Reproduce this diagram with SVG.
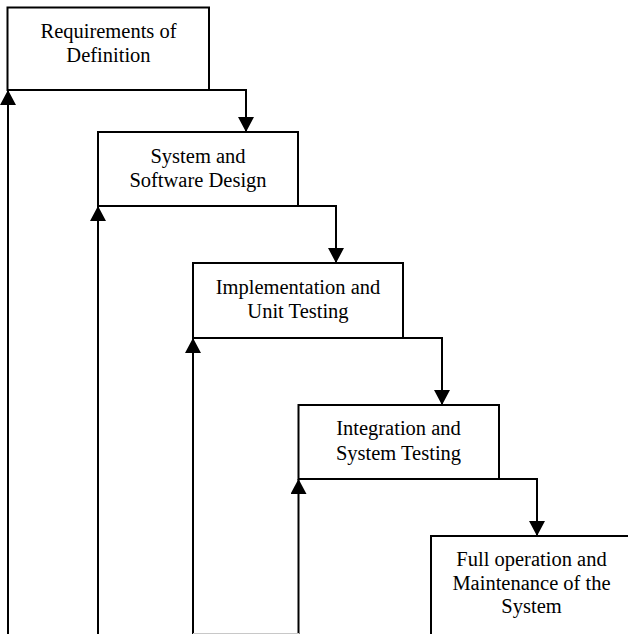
<svg xmlns="http://www.w3.org/2000/svg" width="628" height="634" viewBox="0 0 628 634">
  <style>
    .box { fill: #ffffff; stroke: #000000; stroke-width: 2; }
    .label { font-family: "Liberation Serif", "Times New Roman", serif; font-size: 20.5px; fill: #000000; text-anchor: middle; }
    .link { fill: none; stroke: #000000; stroke-width: 2; }
  </style>
  <defs>
    <marker id="arrow" markerUnits="userSpaceOnUse" markerWidth="15" markerHeight="16" viewBox="0 0 15 16" refX="15" refY="8" orient="auto">
      <path d="M0,0 L15,8 L0,16 z" fill="#000000"/>
    </marker>
  </defs>

  <rect width="628" height="634" fill="#ffffff"/>

  <!-- connectors: step-down flow and feedback lines -->
  <g id="connectors">
    <path class="link" d="M209,90 H246 V132" marker-end="url(#arrow)"/>
    <path class="link" d="M298,206 H336 V263" marker-end="url(#arrow)"/>
    <path class="link" d="M403,338 H442 V405" marker-end="url(#arrow)"/>
    <path class="link" d="M499,479 H537 V536" marker-end="url(#arrow)"/>
    <path class="link" d="M8,634 V90" marker-end="url(#arrow)"/>
    <path class="link" d="M98,634 V206" marker-end="url(#arrow)"/>
    <path class="link" d="M193,634 V338" marker-end="url(#arrow)"/>
    <path class="link" d="M298.5,634 V479" marker-end="url(#arrow)"/>
    <line x1="193" y1="633.5" x2="299" y2="633.5" stroke="#c8c8c8" stroke-width="1"/>
  </g>

  <g id="requirements">
    <rect class="box" x="7.5" y="7.5" width="201.5" height="82.5"/>
    <text class="label" x="108.5" y="38">Requirements of</text>
    <text class="label" x="108.5" y="62">Definition</text>
  </g>

  <g id="design">
    <rect class="box" x="98" y="132" width="200" height="74"/>
    <text class="label" x="198" y="162.5">System and</text>
    <text class="label" x="198" y="186.5">Software Design</text>
  </g>

  <g id="implementation">
    <rect class="box" x="193" y="263" width="210" height="75"/>
    <text class="label" x="298" y="293.5">Implementation and</text>
    <text class="label" x="298" y="318">Unit Testing</text>
  </g>

  <g id="integration">
    <rect class="box" x="298.5" y="405" width="200.5" height="74"/>
    <text class="label" x="398.5" y="435">Integration and</text>
    <text class="label" x="398.5" y="459.5">System Testing</text>
  </g>

  <g id="operation">
    <rect class="box" x="431" y="536" width="210" height="120"/>
    <text class="label" x="531.5" y="565.5">Full operation and</text>
    <text class="label" x="531.5" y="589.5">Maintenance of the</text>
    <text class="label" x="531.5" y="613">System</text>
  </g>
</svg>
